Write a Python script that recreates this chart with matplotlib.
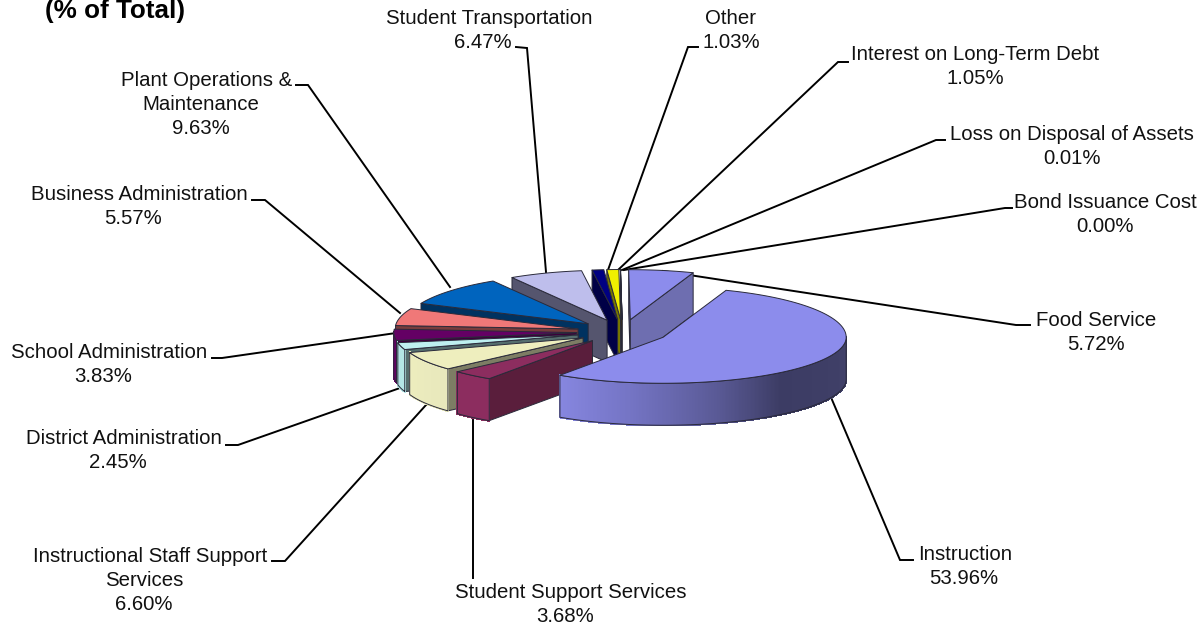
import numpy as np
import matplotlib
matplotlib.use("Agg")
import matplotlib.pyplot as plt
from matplotlib.collections import PolyCollection

plt.rcParams['font.family'] = ['Liberation Sans', 'DejaVu Sans']

# Expense categories, clockwise from the top of the pie
categories = ["Food Service", "Instruction", "Student Support Services",
              "Instructional Staff Support\nServices", "District Administration",
              "School Administration", "Business Administration",
              "Plant Operations &\nMaintenance", "Student Transportation", "Other",
              "Interest on Long-Term Debt", "Loss on Disposal of Assets",
              "Bond Issuance Cost"]
shares = [5.72, 53.96, 3.68, 6.60, 2.45, 3.83, 5.57, 9.63, 6.47, 1.03, 1.05, 0.01, 0.00]

# top face, cut face, wall gradient stops (angle in degrees, colour)
top_colors = ["#8c8cec", "#8c8cec", "#8c2d5f", "#eeeebe", "#bef0f0", "#640064",
              "#f07878", "#0064be", "#bebeec", "#000082", "#f0f000", "#806000", "#806000"]
cut_colors = ["#6e6eb0", "#5c5c96", "#5a1e3c", "#7d7d64", "#556e6e", "#3c003c",
              "#783c3c", "#003260", "#55556e", "#000046", "#787800", "#403000", "#403000"]
wall_stops = {1: [(-125, "#8787e1"), (-100, "#7474c4"), (-73, "#5a5a96"),
                  (-50, "#3c3c64"), (0, "#414169")],
              2: [(-180, "#8c2d5f"), (0, "#8c2d5f")],
              3: [(-165, "#eeeebe"), (-139, "#e8e8bc")],
              4: [(-172, "#aee0e0"), (-163, "#b4e6e6")],
              5: [(-180, "#500050"), (-172, "#640064")]}
# back-to-front painting sequence of the slices
paint_order = [12, 11, 10, 9, 0, 8, 7, 6, 5, 4, 3, 2, 1]

# leader line waypoints, in figure pixels
leaders = [[(663, 271), (1016, 325), (1030, 325)],
           [(830, 395), (900, 560), (913, 560)],
           [(473, 420), (473, 578)],
           [(426, 405), (285, 561), (272, 561)],
           [(400, 388), (238, 445), (226, 445)],
           [(396, 333), (222, 358), (212, 358)],
           [(400, 313), (265, 200), (252, 200)],
           [(450, 287), (308, 85), (296, 85)],
           [(546, 272), (527, 48), (516, 47)],
           [(608, 270), (688, 47), (698, 47)],
           [(618, 270), (838, 62), (848, 62)],
           [(622, 270), (936, 140), (945, 140)],
           [(624, 270), (1005, 208), (1012, 208)]]
# x of the first text line, x of the following lines, y of the first line
label_xs = [(1096, 1096, 320), (965, 964, 554), (571, 565, 592), (150, 144, 556),
            (124, 117.5, 439), (109, 103, 353), (139, 133, 194), (207, 201, 80),
            (489, 483, 19), (731, 731, 19), (975, 975, 55), (1072, 1072, 134),
            (1105, 1105, 202)]
line_step = 24

# projected pie geometry, in figure pixels
center = np.array([622.5, 332.0])
rx = 183.0
ry_back, ry_front = 50.0, 46.0
depth = 42.0
explode = 0.25
start_angle = 90.5


def rim(apex, t):
    t = np.radians(t)
    s = np.sin(t)
    return apex + np.column_stack([rx * np.cos(t), -np.where(s > 0, ry_back, ry_front) * s])


def wall_color(stops, t):
    ts = [s[0] for s in stops]
    rgb = np.array([matplotlib.colors.to_rgb(s[1]) for s in stops])
    return [np.interp(t, ts, rgb[:, k]) for k in range(3)]


fig = plt.figure(figsize=(12.04, 6.27), dpi=100)
ax = fig.add_axes([0, 0, 1, 1])
ax.set_xlim(0, 1204)
ax.set_ylim(627, 0)
ax.axis("off")

edge = "#2a2a3a"
drop = np.array([0.0, depth])
bounds = start_angle - np.concatenate([[0], np.cumsum(shares)]) * 3.6

for i in paint_order:
    hi, lo = bounds[i], bounds[i + 1]
    mid = np.radians((hi + lo) / 2)
    ry_mid = ry_back if np.sin(mid) > 0 else ry_front
    apex = center + explode * np.array([rx * np.cos(mid), -ry_mid * np.sin(mid)])

    # radial cut faces that turn towards the viewer
    for t, normal in ((hi, hi + 90), (lo, lo - 90)):
        if np.sin(np.radians(normal)) < 0:
            p = rim(apex, [t])[0]
            ax.fill(*zip(apex, p, p + drop, apex + drop), fc=cut_colors[i],
                    ec=edge, lw=0.7, zorder=2, joinstyle="round")

    # outer wall on the front half of the rim
    a, b = max(lo, -180), min(hi, 0)
    if a < b:
        ts = np.linspace(a, b, max(2, int((b - a) * 2)))
        pts = rim(apex, ts)
        stops = wall_stops.get(i, [(-180, top_colors[i]), (0, top_colors[i])])
        strips = [[pts[k], pts[k + 1], pts[k + 1] + drop, pts[k] + drop]
                  for k in range(len(ts) - 1)]
        cols = [wall_color(stops, ts[k]) for k in range(len(ts) - 1)]
        ax.add_collection(PolyCollection(strips, facecolors=cols, edgecolors=cols,
                                         linewidths=1.0, antialiaseds=False, zorder=2))
        outline = np.vstack([pts, (pts + drop)[::-1]])
        ax.fill(*outline.T, fc="none", ec=edge, lw=0.7, zorder=2)

    # top face
    ts = np.linspace(hi, lo, max(2, int((hi - lo) * 2)))
    outline = np.vstack([apex, rim(apex, ts)])
    ax.fill(*outline.T, fc=top_colors[i], ec=edge, lw=0.7, zorder=2, joinstyle="round")

for path in leaders:
    ax.plot(*zip(*path), color="black", lw=1.4, zorder=1, solid_joinstyle="miter")

for name, share, (x0, x1, y0) in zip(categories, shares, label_xs):
    lines = name.split("\n") + [f"{share:.2f}%"]
    for k, line in enumerate(lines):
        ax.text(x0 if k == 0 else x1, y0 + k * line_step, line, ha="center", va="center",
                fontsize=14.7, color="#111111")

ax.text(115, 11, "(% of Total)", ha="center", va="center", fontsize=18.8,
        fontweight="bold", color="black")

fig.savefig("out.png", dpi=100)
